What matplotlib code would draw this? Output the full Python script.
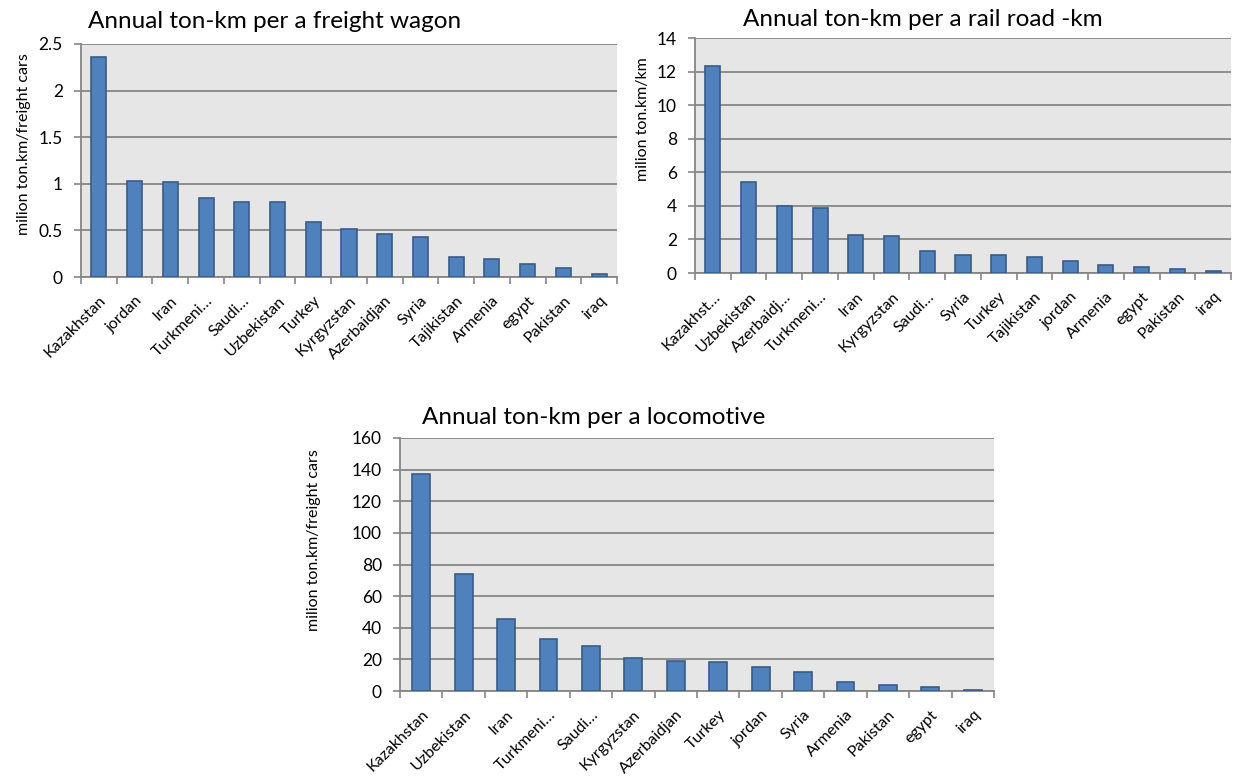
import numpy as np
import matplotlib
matplotlib.use("Agg")
import matplotlib.pyplot as plt

plt.rcParams['font.family'] = ['Lato', 'DejaVu Sans']

# chart 1: per freight wagon
wagon_names = ["Kazakhstan", "jordan", "Iran", "Turkmeni…", "Saudi…", "Uzbekistan",
               "Turkey", "Kyrgyzstan", "Azerbaidjan", "Syria", "Tajikistan",
               "Armenia", "egypt", "Pakistan", "iraq"]
wagon_vals = [2.36, 1.03, 1.02, 0.85, 0.81, 0.80, 0.59, 0.52, 0.46, 0.43,
              0.21, 0.19, 0.14, 0.10, 0.03]

# chart 2: per rail road km
road_names = ["Kazakhst…", "Uzbekistan", "Azerbaidj…", "Turkmeni…", "Iran",
              "Kyrgyzstan", "Saudi…", "Syria", "Turkey", "Tajikistan", "jordan",
              "Armenia", "egypt", "Pakistan", "iraq"]
road_vals = [12.35, 5.40, 3.99, 3.88, 2.29, 2.23, 1.34, 1.07, 1.05, 0.93,
             0.71, 0.45, 0.36, 0.24, 0.14]

# chart 3: per locomotive
loco_names = ["Kazakhstan", "Uzbekistan", "Iran", "Turkmeni…", "Saudi…",
              "Kyrgyzstan", "Azerbaidjan", "Turkey", "jordan", "Syria",
              "Armenia", "Pakistan", "egypt", "iraq"]
loco_vals = [137, 73.7, 45.7, 32.6, 28.6, 20.6, 18.9, 18.1, 15.4, 12.0,
             5.7, 3.6, 2.3, 0.8]

W, H = 1234, 778
fig = plt.figure(figsize=(W / 100, H / 100), dpi=100)

GRID = "#868686"
BG = "#E6E6E6"


def px_axes(left, top, right, bottom):
    return fig.add_axes([left / W, 1 - bottom / H, (right - left) / W, (bottom - top) / H])


def draw(ax, names, vals, ymax, ystep, title, tx, ty, ylab, lx, ly):
    n = len(names)
    x = np.arange(n)
    ax.set_facecolor(BG)
    ax.bar(x, vals, width=0.42, color="#4F81BD", edgecolor="#385D8A", linewidth=1.2, zorder=3)
    ax.set_xlim(-0.5, n - 0.5)
    ax.set_ylim(0, ymax)
    yt = np.arange(0, ymax + ystep / 2, ystep)
    ax.set_yticks(yt)
    ax.set_yticklabels(["%g" % v for v in yt], fontsize=12.5)
    ax.yaxis.grid(True, color=GRID, linewidth=1.3, zorder=1)
    ax.set_axisbelow(True)
    ax.set_xticks(x)
    ax.set_xticklabels(names, rotation=45, ha="right", rotation_mode="anchor", fontsize=11.5)
    ax.set_xticks(np.arange(-0.5, n), minor=True)
    ax.tick_params(axis="x", which="major", length=0, pad=12)
    ax.tick_params(axis="x", which="minor", length=5, width=1.2, color=GRID, direction="out")
    ax.tick_params(axis="y", length=5, width=1.2, color=GRID, direction="out", pad=8)
    for s in ["top", "right"]:
        ax.spines[s].set_visible(False)
    for s in ["left", "bottom"]:
        ax.spines[s].set_color(GRID)
        ax.spines[s].set_linewidth(1.3)
    fig.text(tx / W, 1 - ty / H, title, fontsize=17.5, ha="center", va="center")
    fig.text(lx / W, 1 - ly / H, ylab, fontsize=11.5, rotation=90, ha="center", va="center")


ax1 = px_axes(81, 44, 617, 277)
draw(ax1, wagon_names, wagon_vals, 2.5, 0.5, "Annual ton-km per a freight wagon",
     275, 22, "milion ton.km/freight cars", 24, 144)

ax2 = px_axes(695, 38, 1231, 273)
draw(ax2, road_names, road_vals, 14, 2, "Annual ton-km per a rail road -km",
     923, 19, "milion ton.km/km", 643, 119)

ax3 = px_axes(400, 438, 994, 691)
draw(ax3, loco_names, loco_vals, 160, 20, "Annual ton-km per a locomotive",
     594, 417, "milion ton.km/freight cars", 314, 540)

fig.savefig("out.png", dpi=100)
